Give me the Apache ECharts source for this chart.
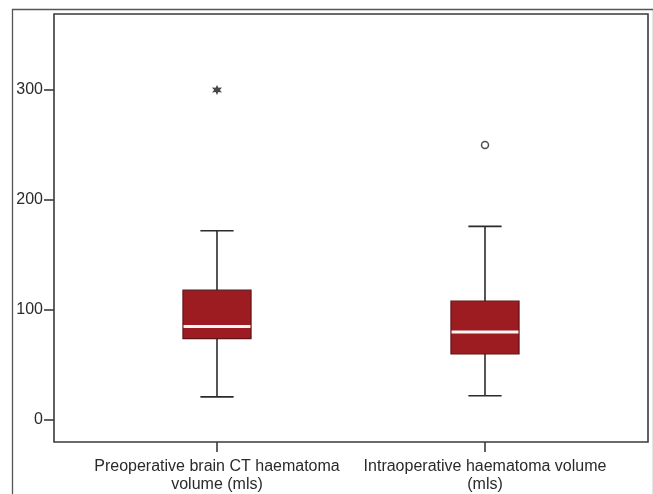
<!DOCTYPE html>
<html>
<head>
<meta charset="utf-8">
<script src="https://cdn.jsdelivr.net/npm/echarts@6/dist/echarts.min.js"></script>
<style>
  html, body { margin: 0; padding: 0; background: #fff; }
  #chart { width: 653px; height: 494px; }
</style>
</head>
<body>
<div id="chart"></div>
<script>
// Haematoma volume (mls): five-number summaries per measurement
const categories = [
  'Preoperative brain CT haematoma\nvolume (mls)',
  'Intraoperative haematoma volume\n(mls)'
];
const whiskerLow = [21, 22];
const quartile1 = [74, 60];
const medians = [85, 80];
const quartile3 = [118, 108];
const whiskerHigh = [172, 176];
// Outliers: extreme (asterisk) and mild (circle), as [category index, value]
const extremeOutliers = [[0, 300]];
const mildOutliers = [[1, 250]];
const yTicks = [0, 100, 200, 300];

const boxData = categories.map((c, i) => [i, whiskerLow[i], quartile1[i], medians[i], quartile3[i], whiskerHigh[i]]);

const Y_MIN = -20, Y_MAX = 369;
const FONT = 'Liberation Sans, Arial, sans-serif';

const starPath = 'path://M10 0 L12.5 5.67 L18.66 5 L15 10 L18.66 15 L12.5 14.33 L10 20 L7.5 14.33 L1.34 15 L5 10 L1.34 5 L7.5 5.67 Z';

function renderBox(params, api) {
  const idx = api.value(0);
  const band = api.size([1, 0])[0];
  const halfBox = band * 0.127;
  const halfCap = band * 0.062;
  const pLow = api.coord([idx, api.value(1)]);
  const pQ1 = api.coord([idx, api.value(2)]);
  const pMed = api.coord([idx, api.value(3)]);
  const pQ3 = api.coord([idx, api.value(4)]);
  const pHigh = api.coord([idx, api.value(5)]);
  const cx = pMed[0];
  const lineStyle = { stroke: '#2b2b2b', lineWidth: 1.6 };
  return {
    type: 'group',
    children: [
      { type: 'line', shape: { x1: cx, y1: pLow[1], x2: cx, y2: pQ1[1] }, style: lineStyle },
      { type: 'line', shape: { x1: cx, y1: pQ3[1], x2: cx, y2: pHigh[1] }, style: lineStyle },
      { type: 'line', shape: { x1: cx - halfCap, y1: pLow[1], x2: cx + halfCap, y2: pLow[1] }, style: lineStyle },
      { type: 'line', shape: { x1: cx - halfCap, y1: pHigh[1], x2: cx + halfCap, y2: pHigh[1] }, style: lineStyle },
      {
        type: 'rect',
        shape: { x: cx - halfBox, y: pQ3[1], width: halfBox * 2, height: pQ1[1] - pQ3[1] },
        style: { fill: '#9c1c22', stroke: '#5e1416', lineWidth: 1.2 }
      },
      {
        type: 'line',
        shape: { x1: cx - halfBox + 0.6, y1: pMed[1], x2: cx + halfBox - 0.6, y2: pMed[1] },
        style: { stroke: '#fdf4f4', lineWidth: 3 }
      }
    ]
  };
}

const chart = echarts.init(document.getElementById('chart'));
chart.setOption({
  animation: false,
  backgroundColor: '#fff',
  graphic: [{
    type: 'rect',
    left: 10, top: 7,
    shape: { width: 641, height: 520 },
    style: { fill: 'none', stroke: '#555', lineWidth: 1.3 },
    silent: true
  }],
  grid: [
    { left: 83, right: 34, top: 14, bottom: 52 },
    { left: 54, right: 5, top: 14, bottom: 52, show: true, borderColor: '#3a3a3a', borderWidth: 1.6, backgroundColor: 'transparent' }
  ],
  xAxis: [
    {
      type: 'category', gridIndex: 0, data: categories, position: 'bottom',
      axisLine: { show: false, onZero: false },
      axisTick: { show: true, alignWithLabel: true, length: 10, lineStyle: { color: '#3a3a3a', width: 1.6 } },
      axisLabel: { interval: 0, color: '#2a2a2a', fontFamily: FONT, fontSize: 16, margin: 16, lineHeight: 18 },
      splitLine: { show: false }
    },
    { type: 'category', gridIndex: 1, data: categories, show: false, axisLine: { onZero: false } }
  ],
  yAxis: [
    { type: 'value', gridIndex: 0, min: Y_MIN, max: Y_MAX, show: false, splitLine: { show: false } },
    {
      type: 'value', gridIndex: 1, min: Y_MIN, max: Y_MAX,
      axisLine: { show: false, onZero: false },
      axisTick: { show: true, length: 10, customValues: yTicks, lineStyle: { color: '#3a3a3a', width: 1.6 } },
      axisLabel: { customValues: yTicks, color: '#2a2a2a', fontFamily: FONT, fontSize: 16, margin: 11 },
      splitLine: { show: false }
    }
  ],
  series: [
    {
      type: 'custom', xAxisIndex: 0, yAxisIndex: 0,
      renderItem: renderBox,
      encode: { x: 0, y: [1, 2, 3, 4, 5] },
      data: boxData
    },
    {
      type: 'scatter', xAxisIndex: 0, yAxisIndex: 0,
      symbol: starPath, symbolSize: 10,
      itemStyle: { color: '#1a1a1a' },
      data: extremeOutliers
    },
    {
      type: 'scatter', xAxisIndex: 0, yAxisIndex: 0,
      symbol: 'circle', symbolSize: 7,
      itemStyle: { color: '#fff', borderColor: '#222', borderWidth: 1.5 },
      data: mildOutliers
    }
  ]
});
</script>
</body>
</html>
